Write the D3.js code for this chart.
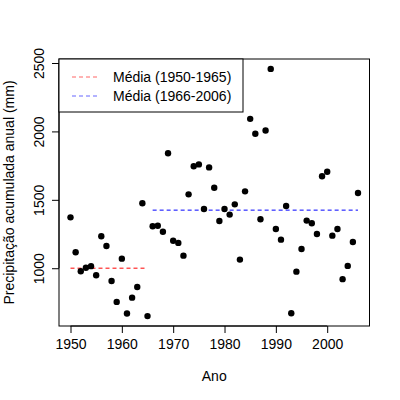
<!DOCTYPE html>
<html><head><meta charset="utf-8">
<script src="https://cdn.jsdelivr.net/npm/d3@7"></script>
<style>body{margin:0;background:#fff}text{font-family:"Liberation Sans",Arial,sans-serif}</style>
</head><body><svg id="c" width="400" height="400"></svg>
<script>
const years = d3.range(1950, 2007);
const precip = [1372,1117,978,1004,1015,949,1234,1163,907,754,1070,669,785,863,1475,650,
1307,1311,1267,1840,1201,1185,1092,1540,1745,1759,1433,1737,1588,1345,1433,1392,1467,1063,1562,2092,1983,1358,2007,2457,1287,1209,1455,671,975,1141,1348,1329,1250,1672,1705,1238,1287,920,1017,1192,1550];
const xTicks = [1950,1960,1970,1980,1990,2000];
const yTicks = [1000,1500,2000,2500];
const legendLabels = ["Média (1950-1965)","Média (1966-2006)"];

const svg = d3.select("#c");
const L=59,R=369.5,T=59,B=326;
const xpad=(2006-1950)*0.04, ymin=d3.min(precip), ymax=d3.max(precip), ypad=(ymax-ymin)*0.04;
const x=d3.scaleLinear().domain([1950-xpad,2006+xpad]).range([L,R]);
const y=d3.scaleLinear().domain([ymin-ypad,ymax+ypad]).range([B,T]);
const data=years.map((yr,i)=>({yr,v:precip[i]}));
const m1=d3.mean(data.filter(d=>d.yr<=1965),d=>d.v), m2=d3.mean(data.filter(d=>d.yr>=1966),d=>d.v);

svg.append("rect").attr("x",L).attr("y",T).attr("width",R-L).attr("height",B-T).attr("fill","none").attr("stroke","#000");
const xa=svg.append("g").attr("transform",`translate(0,${B})`).call(d3.axisBottom(x).tickValues(xTicks).tickSize(7).tickPadding(6).tickFormat(d3.format("d")));
const ya=svg.append("g").attr("transform",`translate(${L},0)`).call(d3.axisLeft(y).tickValues(yTicks).tickSize(7).tickFormat(d3.format("d")));
[xa,ya].forEach(a=>{a.select(".domain").remove();a.selectAll("text").attr("font-size",14).attr("fill","#000");});
ya.selectAll(".tick text").attr("transform","rotate(-90)").attr("text-anchor","middle").attr("x",0).attr("dx",0).attr("y",-15).attr("dy","0");
svg.append("line").attr("x1",x(1950)).attr("x2",x(2000)).attr("y1",B).attr("y2",B).attr("stroke","#000");
svg.append("line").attr("x1",L).attr("x2",L).attr("y1",y(1000)).attr("y2",y(2500)).attr("stroke","#000");

svg.append("line").attr("x1",x(1950)).attr("x2",x(1965)).attr("y1",y(m1)).attr("y2",y(m1)).attr("stroke","#ff0000").attr("stroke-dasharray","4,3");
svg.append("line").attr("x1",x(1966)).attr("x2",x(2006)).attr("y1",y(m2)).attr("y2",y(m2)).attr("stroke","#0000ff").attr("stroke-dasharray","4,3");

svg.selectAll("circle.p").data(data).enter().append("circle").attr("cx",d=>x(d.yr)).attr("cy",d=>y(d.v)).attr("r",3.2).attr("fill","#000");

svg.append("rect").attr("x",L).attr("y",T).attr("width",243-L).attr("height",53).attr("fill","#fff").attr("stroke","#000");
const cols=["#ff6666","#6666ff"];
legendLabels.forEach((t,i)=>{
  const yy=77+i*19;
  svg.append("line").attr("x1",72).attr("x2",100).attr("y1",yy).attr("y2",yy).attr("stroke",cols[i]).attr("stroke-dasharray","4,3");
  svg.append("text").attr("x",113).attr("y",yy+5).attr("font-size",14).text(t);
});
svg.append("text").attr("x",(L+R)/2).attr("y",381).attr("text-anchor","middle").attr("font-size",14).text("Ano");
svg.append("text").attr("transform",`translate(14,${(T+B)/2}) rotate(-90)`).attr("text-anchor","middle").attr("font-size",14).text("Precipitação acumulada anual (mm)");
</script></body></html>
